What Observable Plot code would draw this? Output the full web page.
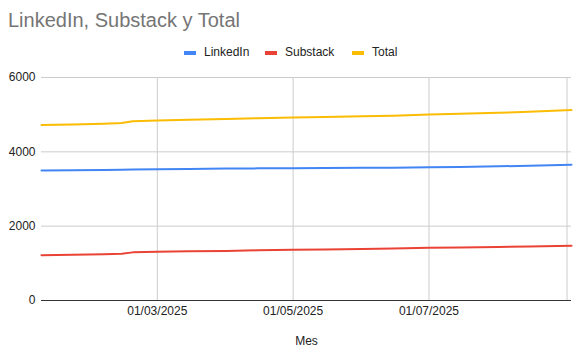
<!DOCTYPE html>
<html><head><meta charset="utf-8">
<script src="https://cdn.jsdelivr.net/npm/d3@7"></script>
<script src="https://cdn.jsdelivr.net/npm/@observablehq/plot@0.6"></script>
<style>
body{margin:0;background:#fff;font-family:"Liberation Sans",Arial,sans-serif;}
#wrap{position:relative;width:581px;height:353px;}
#title{position:absolute;left:8px;top:9px;font-size:20px;color:#757575;}
#legend{position:absolute;left:0;top:45px;width:581px;height:16px;font-size:12px;color:#222;}
.sw{position:absolute;top:6px;width:12px;height:4px;}
.lt{position:absolute;top:0;}
#chart{position:absolute;left:0;top:65px;}
</style></head><body>
<div id="wrap">
<div id="title">LinkedIn, Substack y Total</div>
<div id="legend"></div>
<div id="chart"></div>
</div>
<script>
const dates = ["2025-01-08","2025-01-22","2025-02-05","2025-02-13","2025-02-18","2025-03-01","2025-03-15","2025-04-01","2025-04-15","2025-05-01","2025-05-15","2025-06-01","2025-06-15","2025-07-01","2025-07-15","2025-08-01","2025-08-15","2025-09-03"];
const linkedin = [3500,3505,3512,3518,3525,3532,3540,3550,3555,3560,3564,3570,3575,3586,3595,3610,3625,3650];
const substack = [1220,1230,1245,1255,1295,1310,1322,1335,1350,1365,1375,1385,1398,1419,1428,1440,1455,1473];
const total    = [4720,4735,4757,4773,4820,4842,4862,4885,4905,4925,4939,4955,4973,5005,5023,5050,5080,5123];
const seriesNames = ["LinkedIn","Substack","Total"];
const seriesColors = ["#4285F4","#EA4335","#FBBC04"];
const yTicks = [0,2000,4000,6000];
const xTicks = ["2025-03-01","2025-05-01","2025-07-01"];
const xGrid = ["2025-03-01","2025-05-01","2025-07-01","2025-09-01"];
const xDomain = ["2025-01-08","2025-09-03"];
const xTitle = "Mes";

const parse = d3.utcParse("%Y-%m-%d");
const fmt = d3.utcFormat("%d/%m/%Y");
const vals = [linkedin, substack, total];
const data = [];
seriesNames.forEach((s,i)=>dates.forEach((d,j)=>data.push({series:s,date:parse(d),value:vals[i][j]})));

const plot = Plot.plot({
  width:581, height:288,
  marginLeft:41, marginRight:10, marginTop:12, marginBottom:53,
  style:{fontFamily:'"Liberation Sans",Arial,sans-serif',fontSize:"12px",color:"#222"},
  x:{type:"utc",domain:xDomain.map(parse)},
  y:{domain:[0,6000]},
  color:{domain:seriesNames,range:seriesColors},
  marks:[
    Plot.gridY(yTicks.slice(1),{stroke:"#cccccc",strokeOpacity:1}),
    Plot.gridX(xGrid.map(parse),{stroke:"#cccccc",strokeOpacity:1}),
    Plot.axisY(yTicks,{tickSize:0,tickPadding:6,tickFormat:d=>String(d),label:null,fill:"#222",fontSize:12}),
    Plot.axisX(xTicks.map(parse),{tickSize:0,tickPadding:6,tickFormat:fmt,label:null,fill:"#222",fontSize:12}),
    Plot.ruleY([0],{stroke:"#333",strokeWidth:1}),
    Plot.line(data,{x:"date",y:"value",z:"series",stroke:"series",strokeWidth:2}),
    Plot.text([xTitle],{frameAnchor:"bottom",dy:44,text:d=>d,fill:"#222",fontSize:12})
  ]
});
document.getElementById("chart").appendChild(plot);

const legend = document.getElementById("legend");
const pos = [184,265,352];
seriesNames.forEach((s,i)=>{
  const sw=document.createElement("div");sw.className="sw";sw.style.left=pos[i]+"px";sw.style.background=seriesColors[i];legend.appendChild(sw);
  const t=document.createElement("div");t.className="lt";t.style.left=(pos[i]+20)+"px";t.textContent=s;legend.appendChild(t);
});
</script>
</body></html>
